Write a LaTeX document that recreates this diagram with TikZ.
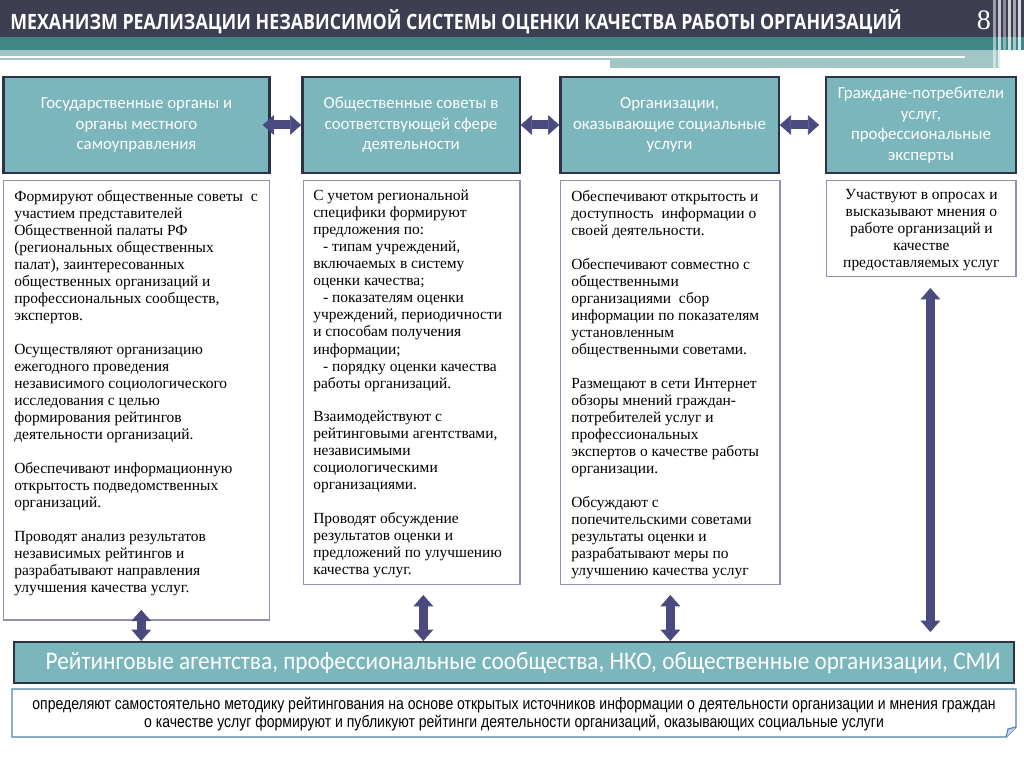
\documentclass[tikz,border=0pt]{standalone}
\usepackage{fontspec}
\setmainfont{Liberation Serif}
\newfontfamily\hdrfont{Carlito}
\newfontfamily\barfont[FakeStretch=0.92]{Carlito}
\newfontfamily\ttlfont[FakeStretch=0.845]{Open Sans}
\newfontfamily\notefont[FakeStretch=0.845]{Liberation Sans}
\usetikzlibrary{arrows.meta}
\newdimen\pxu \pxu=0.7087pt
\definecolor{ttldark}{RGB}{62,62,82}
\definecolor{ttlteal}{RGB}{64,136,136}
\definecolor{ttllight}{RGB}{160,198,198}
\definecolor{hdrfill}{RGB}{123,182,188}
\definecolor{hdrline}{RGB}{45,50,75}
\definecolor{boxline}{RGB}{145,145,175}
\definecolor{arrowfill}{RGB}{74,74,128}
\definecolor{noteline}{RGB}{80,130,175}

\begin{document}
\begin{tikzpicture}[x=0.025cm, y=-0.025cm,
  hdrbox/.style={draw=hdrline, line width=1.6pt, fill=hdrfill, text=white,
    align=center, inner sep=0pt, font=\hdrfont\fontsize{12}{14.6}\selectfont},
  txtbox/.style={draw=boxline, line width=1pt, fill=white, anchor=north west, inner sep=0pt},
  bodytext/.style={anchor=north west, align=left, inner sep=0pt,
    font=\fontsize{11}{12.1}\selectfont},
  dblarrow/.style={draw=arrowfill, line width=6.4pt,
    {Triangle[width=14pt,length=8pt,line width=0.5pt]}-{Triangle[width=14pt,length=8pt,line width=0.5pt]}}]
  \useasboundingbox (0,0) rectangle (1024,768);

  % шапка
  \fill[ttldark] (0,0) rectangle (1024,37);
  \fill[ttlteal] (0,37) rectangle (1024,50);
  \fill[ttllight] (0,50) rectangle (1000,60);
  \fill[white] (0,56) rectangle (965,58);
  \fill[ttllight] (610,60) rectangle (1000,68);
  \foreach \x/\c in {993/50,998/70,1003/40,1008/75,1013/55,1018/80} {
    \fill[white, opacity=0.\c] (\x,0) rectangle ++(3,70);
  }
  \node[anchor=base west, inner sep=0pt, text=white,
    font=\ttlfont\bfseries\fontsize{15}{18}\selectfont] (ttl) at (10,30)
    {МЕХАНИЗМ РЕАЛИЗАЦИИ НЕЗАВИСИМОЙ СИСТЕМЫ ОЦЕНКИ КАЧЕСТВА РАБОТЫ ОРГАНИЗАЦИЙ};
  \node[anchor=base, inner sep=0pt, text=white, font=\fontsize{20}{24}\selectfont] (num) at (984,30) {8};

  % верхний ряд
  \node[hdrbox, minimum width=267\pxu, minimum height=96\pxu] (gos) at (136.5,125)
    {Государственные органы и\\органы местного\\самоуправления};
  \node[hdrbox, minimum width=218\pxu, minimum height=96\pxu] (sov) at (411,125)
    {Общественные советы в\\соответствующей сфере\\деятельности};
  \node[hdrbox, minimum width=219\pxu, minimum height=96\pxu] (org) at (669.5,125)
    {Организации,\\оказывающие социальные\\услуги};
  \node[hdrbox, minimum width=190\pxu, minimum height=96\pxu] (grazh) at (921,125)
    {Граждане-потребители\\услуг,\\профессиональные\\эксперты};

  \draw[dblarrow] ([shift={(-8,0)}]gos.east) -- (sov.west);
  \draw[dblarrow] (sov.east) -- (org.west);
  \draw[dblarrow, shorten >=4.3pt] (org.east) -- (grazh.west);

  % колонки
  \node[txtbox, minimum width=267\pxu, minimum height=441\pxu] (t1) at (3,180) {};
  \node[txtbox, minimum width=217\pxu, minimum height=405\pxu] (t2) at (303,180) {};
  \node[txtbox, minimum width=220\pxu, minimum height=405\pxu] (t3) at (560,180) {};
  \node[txtbox, minimum width=190\pxu, minimum height=96\pxu] (t4) at (826,180) {};

  \node[bodytext] (b1) at (14,190) {Формируют общественные советы\ \ с\\участием представителей\\Общественной палаты РФ\\(региональных общественных\\палат), заинтересованных\\общественных организаций и\\профессиональных сообществ,\\экспертов.\\[12pt]
    Осуществляют организацию\\ежегодного проведения\\независимого социологического\\исследования с целью\\формирования рейтингов\\деятельности организаций.\\[12pt]
    Обеспечивают информационную\\открытость подведомственных\\организаций.\\[12pt]
    Проводят анализ результатов\\независимых рейтингов и\\разрабатывают направления\\улучшения качества услуг.};
  \node[bodytext] (b2) at (313,190) {С учетом региональной\\специфики формируют\\предложения по:\\\hspace*{7pt}- типам учреждений,\\включаемых в систему\\оценки качества;\\\hspace*{7pt}- показателям оценки\\учреждений, периодичности\\и способам получения\\информации;\\\hspace*{7pt}- порядку оценки качества\\работы организаций.\\[12pt]
    Взаимодействуют с\\рейтинговыми агентствами,\\независимыми\\социологическими\\организациями.\\[12pt]
    Проводят обсуждение\\результатов оценки и\\предложений по улучшению\\качества услуг.};
  \node[bodytext] (b3) at (571,190) {Обеспечивают открытость и\\доступность\ \ информации о\\своей деятельности.\\[12pt]
    Обеспечивают совместно с\\общественными\\организациями\ \ сбор\\информации по показателям\\установленным\\общественными советами.\\[12pt]
    Размещают в сети Интернет\\обзоры мнений граждан-\\потребителей услуг и\\профессиональных\\экспертов о качестве работы\\организации.\\[12pt]
    Обсуждают с\\попечительскими советами\\результаты оценки и\\разрабатывают меры по\\улучшению качества услуг};
  \node[bodytext, anchor=center, align=center] (b4) at ([shift={(0,2)}]t4.center)
    {Участвуют в опросах и\\высказывают мнения о\\работе организаций и\\качестве\\предоставляемых услуг};

  % нижняя полоса
  \node[hdrbox, minimum width=1004\pxu, minimum height=41\pxu] (bar) at (514,662.5) {};
  \node[inner sep=0pt, text=white, font=\barfont\fontsize{18}{21}\selectfont] (bartext) at (523,662.5)
    {Рейтинговые агентства, профессиональные сообщества, НКО, общественные организации, СМИ};

  \coordinate (s1) at ([shift={(4.5,-11)}]t1.south);
  \coordinate (s2) at ([shift={(11.5,10)}]t2.south);
  \coordinate (s3) at ([shift={(0,10)}]t3.south);
  \coordinate (s4) at ([shift={(9,11)}]t4.south);
  \foreach \s in {s1,s2,s3} {
    \draw[dblarrow] (\s) -- (\s |- bar.north);
  }
  \draw[dblarrow, shorten >=6.4pt] (s4) -- (s4 |- bar.north);

  % примечание
  \draw[noteline, line width=1pt, fill=white] (12,689) -- (1016,689) -- (1016,727)
    -- (1006,737) -- (12,737) -- cycle;
  \draw[noteline, line width=0.8pt, fill=noteline!30] (1016,727) -- (1008,729) -- (1006,737);
  \node[align=center, inner sep=0pt, font=\notefont\fontsize{11.8}{13}\selectfont] (note) at (514,714)
    {определяют самостоятельно методику рейтингования на основе открытых источников информации о деятельности организации и мнения граждан\\о качестве услуг формируют и публикуют рейтинги деятельности организаций, оказывающих социальные услуги};
\end{tikzpicture}
\end{document}
